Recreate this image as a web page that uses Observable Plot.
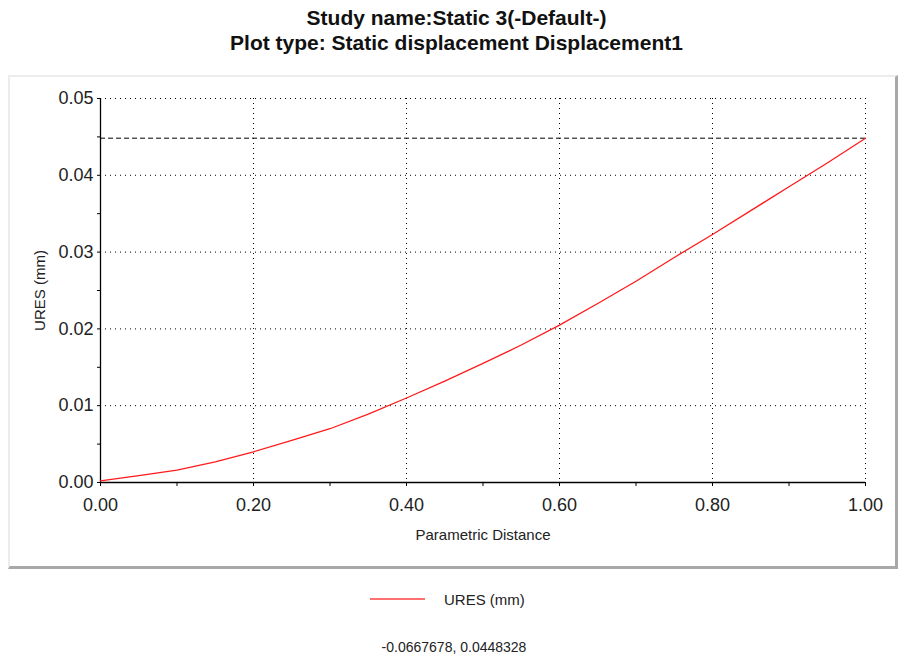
<!DOCTYPE html>
<html>
<head>
<meta charset="utf-8">
<script src="https://cdn.jsdelivr.net/npm/d3@7"></script>
<script src="https://cdn.jsdelivr.net/npm/@observablehq/plot@0.6"></script>
<style>
  html, body { margin: 0; padding: 0; background: #fff; }
  body { width: 901px; height: 664px; position: relative; overflow: hidden;
         font-family: Arial, "Liberation Sans", sans-serif; color: #222; }
  #title { position: absolute; left: 6px; top: 5px; width: 901px; text-align: center;
           font-weight: bold; font-size: 21px; line-height: 25px; color: #111; }
  #panel { position: absolute; left: 8px; top: 75px; width: 885px; height: 489px;
           border-top: 2px solid #ececec; border-left: 2px solid #ececec;
           border-right: 3px solid #a8a8a8; border-bottom: 3px solid #a8a8a8; }
  #chart { position: absolute; left: 0; top: 75px; }
  #legend { position: absolute; left: 0; top: 580px; }
</style>
</head>
<body>
<div id="title"></div>
<div id="panel"></div>
<div id="chart"></div>
<svg id="legend" width="901" height="84"></svg>
<script>
// ---- data ----
const titleLines = ["Study name:Static 3(-Default-)", "Plot type: Static displacement Displacement1"];
const xLabel = "Parametric Distance";
const yLabel = "URES (mm)";
const seriesName = "URES (mm)";
const cursorText = "-0.0667678, 0.0448328";

const xs = [0, 0.05, 0.1, 0.15, 0.2, 0.25, 0.3, 0.35, 0.4, 0.45, 0.5, 0.55, 0.6, 0.65, 0.7, 0.75, 0.8, 0.85, 0.9, 0.95, 1.0];
const ys = [0.0002, 0.0009, 0.0016, 0.0027, 0.0040, 0.0055, 0.0070, 0.0089, 0.0110, 0.0132, 0.0155, 0.0179, 0.0205, 0.0233, 0.0262, 0.0293, 0.0323, 0.0354, 0.0385, 0.0416, 0.0448328];

const xTicks = [0, 0.2, 0.4, 0.6, 0.8, 1.0];
const xMinorTicks = [0.1, 0.3, 0.5, 0.7, 0.9];
const yTicks = [0, 0.01, 0.02, 0.03, 0.04, 0.05];
const yMinorTicks = [0.005, 0.015, 0.025, 0.035, 0.045];

// ---- build ----
document.getElementById("title").innerHTML = titleLines.map(t => `<div>${t}</div>`).join("");

const data = xs.map((x, i) => ({x, y: ys[i]}));
const maxVal = d3.max(ys);
const fmt = d3.format(".2f");
const dotted = {stroke: "#000", strokeOpacity: 1, strokeWidth: 1, strokeDasharray: "1,4"};

const chart = Plot.plot({
  width: 901,
  height: 490,
  marginLeft: 100,
  marginRight: 36,
  marginTop: 23,
  marginBottom: 83,
  style: {background: "transparent", color: "#000", fontFamily: "Arial, 'Liberation Sans', sans-serif"},
  x: {domain: [xTicks[0], xTicks[xTicks.length - 1]]},
  y: {domain: [yTicks[0], yTicks[yTicks.length - 1]]},
  marks: [
    Plot.gridX(xTicks.slice(1), dotted),
    Plot.gridY(yTicks.slice(1), dotted),
    Plot.ruleY([maxVal], {stroke: "#000", strokeWidth: 1, strokeDasharray: "5,3"}),
    Plot.axisX(xMinorTicks, {tickSize: 4, text: null, label: null, stroke: "#000"}),
    Plot.axisX(xTicks, {tickSize: 4, tickPadding: 12, tickFormat: fmt, fontSize: 18, fill: "#222", label: null, stroke: "#000"}),
    Plot.axisY(yMinorTicks, {tickSize: 3, text: null, label: null, stroke: "#000"}),
    Plot.axisY(yTicks, {tickSize: 3, tickPadding: 4, tickFormat: fmt, fontSize: 18, fill: "#222", label: null, stroke: "#000"}),
    Plot.ruleX([xTicks[0]], {stroke: "#000", strokeWidth: 1.3}),
    Plot.ruleY([yTicks[0]], {stroke: "#000", strokeWidth: 1.3}),
    Plot.line(data, {x: "x", y: "y", stroke: "#ff1a1a", strokeWidth: 1.3}),
    Plot.text([xLabel], {frameAnchor: "bottom", dy: 53, textAnchor: "middle", lineAnchor: "middle", fontSize: 15, fill: "#222"}),
    Plot.text([yLabel], {frameAnchor: "left", dx: -60, rotate: -90, textAnchor: "middle", lineAnchor: "middle", fontSize: 15, fill: "#222"})
  ]
});
document.getElementById("chart").appendChild(chart);

// legend + cursor readout
const lg = d3.select("#legend");
lg.append("line").attr("x1", 370).attr("x2", 425).attr("y1", 19).attr("y2", 19)
  .attr("stroke", "#ff4040").attr("stroke-width", 1.5);
lg.append("text").attr("x", 444).attr("y", 20).attr("dy", "0.35em")
  .attr("font-size", 15).attr("fill", "#222").text(seriesName);
lg.append("text").attr("x", 454).attr("y", 67).attr("dy", "0.35em").attr("text-anchor", "middle")
  .attr("font-size", 14).attr("fill", "#222").text(cursorText);
</script>
</body>
</html>
